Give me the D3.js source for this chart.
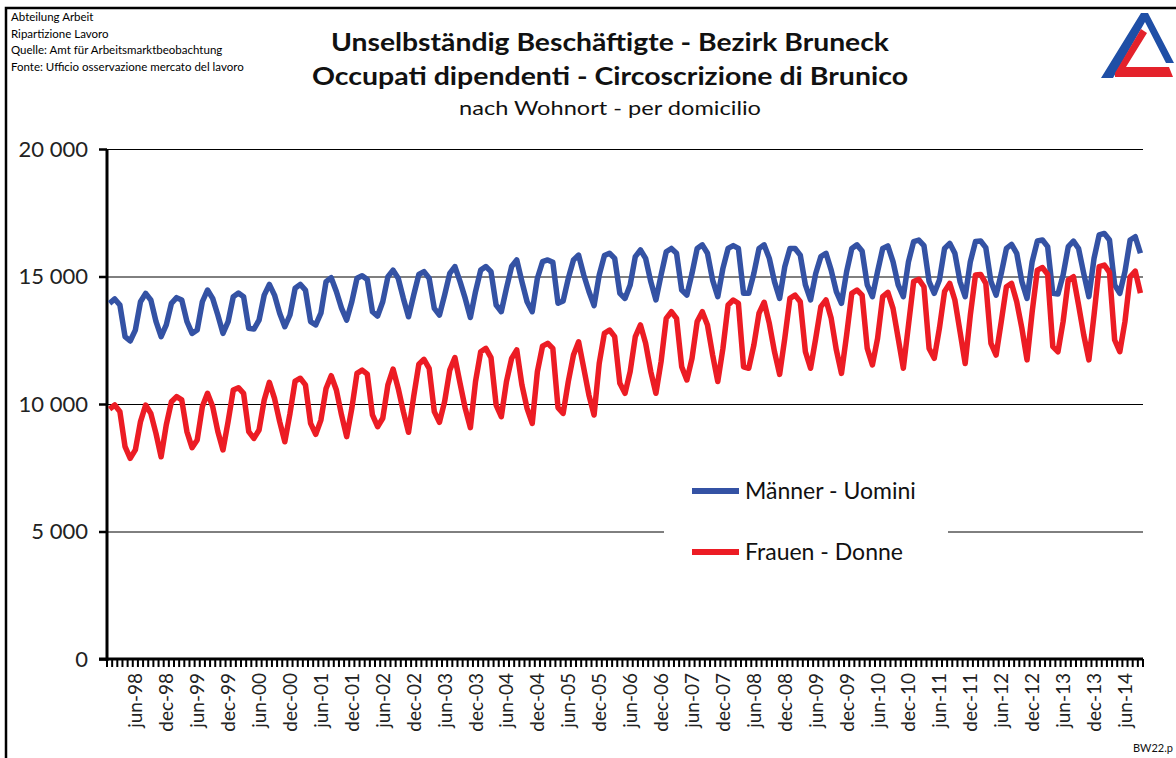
<!DOCTYPE html>
<html>
<head>
<meta charset="utf-8">
<script src="https://cdn.jsdelivr.net/npm/d3@7"></script>
<style>
body { margin: 0; background: #fff; }
svg { display: block; }
</style>
</head>
<body>
<div id="chart"></div>
<script>
// data, monthly jan-98 .. sep-14
var years = ["98","99","00","01","02","03","04","05","06","07","08","09","10","11","12","13","14"];
var monthNames = ["jan","feb","mar","apr","may","jun","jul","aug","sep","oct","nov","dec"];

var maenner = [
    13950, 14120, 13880, 12640, 12470, 12900, 14010, 14340, 14080, 13240, 12640, 13100, // 1998
    13950, 14170, 14080, 13240, 12770, 12900, 14010, 14470, 14140, 13490, 12770, 13230, // 1999
    14210, 14350, 14210, 12970, 12940, 13290, 14270, 14690, 14270, 13560, 13030, 13490, // 2000
    14540, 14690, 14470, 13230, 13100, 13560, 14800, 14950, 14410, 13760, 13290, 14010, // 2001
    14930, 15030, 14880, 13620, 13450, 14010, 14990, 15250, 14930, 14140, 13420, 14270, // 2002
    15080, 15190, 14930, 13750, 13490, 14270, 15120, 15390, 14800, 14140, 13390, 14410, // 2003
    15250, 15390, 15190, 13880, 13620, 14540, 15390, 15650, 14800, 14010, 13620, 14930, // 2004
    15580, 15650, 15560, 13950, 14040, 14930, 15650, 15840, 15060, 14410, 13860, 15060, // 2005
    15820, 15910, 15710, 14340, 14140, 14670, 15780, 16040, 15710, 14800, 14080, 15060, // 2006
    15970, 16100, 15910, 14470, 14270, 15120, 16100, 16240, 15910, 14860, 14210, 15320, // 2007
    16100, 16210, 16100, 14340, 14340, 15120, 16100, 16240, 15710, 14800, 14140, 15380, // 2008
    16100, 16100, 15840, 14670, 14080, 15120, 15780, 15910, 15250, 14410, 13950, 15190, // 2009
    16100, 16240, 16000, 14670, 14210, 15190, 16100, 16200, 15580, 14670, 14210, 15580, // 2010
    16370, 16430, 16210, 14800, 14340, 14860, 16100, 16300, 15910, 14800, 14210, 15580, // 2011
    16370, 16390, 16130, 14800, 14270, 15120, 16100, 16260, 15910, 14800, 14140, 15580, // 2012
    16390, 16430, 16170, 14340, 14310, 15060, 16170, 16390, 16100, 15120, 14210, 15710, // 2013
    16630, 16690, 16430, 14670, 14340, 15190, 16430, 16560, 15910                        // 2014
];

var frauen = [
    9800, 9960, 9700, 8330, 7870, 8200, 9310, 9960, 9630, 8850, 7930, 9180,             // 1998
    10090, 10290, 10160, 8920, 8290, 8590, 9900, 10420, 9900, 8920, 8200, 9310,         // 1999
    10550, 10640, 10420, 8920, 8650, 8980, 10160, 10850, 10220, 9310, 8520, 9630,       // 2000
    10900, 11010, 10750, 9240, 8810, 9370, 10610, 11110, 10550, 9570, 8720, 9830,       // 2001
    11200, 11330, 11170, 9570, 9110, 9440, 10750, 11370, 10610, 9700, 8890, 10290,      // 2002
    11560, 11750, 11400, 9700, 9280, 10090, 11330, 11820, 10810, 9830, 9070, 10880,     // 2003
    12050, 12180, 11820, 9960, 9500, 10880, 11790, 12120, 10750, 9830, 9240, 11270,     // 2004
    12270, 12380, 12180, 9860, 9630, 10880, 11920, 12440, 11400, 10350, 9570, 11600,    // 2005
    12770, 12900, 12640, 10810, 10420, 11270, 12640, 13100, 12380, 11270, 10420, 11660, // 2006
    13360, 13620, 13360, 11460, 10940, 11790, 13230, 13620, 13100, 11920, 10880, 12180, // 2007
    13880, 14080, 13950, 11460, 11400, 12310, 13560, 13990, 13160, 12050, 11160, 12570, // 2008
    14140, 14270, 14010, 12050, 11400, 12570, 13820, 14080, 13360, 12120, 11200, 12710, // 2009
    14340, 14470, 14270, 12180, 11530, 12570, 14210, 14380, 13750, 12580, 11400, 13100, // 2010
    14800, 14890, 14600, 12180, 11790, 12970, 14410, 14730, 14080, 12840, 11590, 13490, // 2011
    15060, 15080, 14730, 12380, 11920, 13230, 14600, 14730, 14010, 12970, 11730, 13620, // 2012
    15250, 15350, 15080, 12250, 12050, 13230, 14860, 14990, 13880, 12710, 11730, 13490, // 2013
    15390, 15450, 15160, 12510, 12050, 13230, 14990, 15210, 14350                        // 2014
];

var tickLabels = ["jun-98","dec-98","jun-99","dec-99","jun-00","dec-00","jun-01","dec-01",
    "jun-02","dec-02","jun-03","dec-03","jun-04","dec-04","jun-05","dec-05","jun-06","dec-06",
    "jun-07","dec-07","jun-08","dec-08","jun-09","dec-09","jun-10","dec-10","jun-11","dec-11",
    "jun-12","dec-12","jun-13","dec-13","jun-14"];
var yTicks = [0, 5000, 10000, 15000, 20000];
var seriesNames = ["Männer - Uomini", "Frauen - Donne"];

var headerLines = ["Abteilung Arbeit", "Ripartizione Lavoro",
    "Quelle: Amt für Arbeitsmarktbeobachtung", "Fonte: Ufficio osservazione mercato del lavoro"];

//sizes
var width = 1176;
var height = 758;
var plot = {'left': 107, 'right': 1143, 'top': 149, 'bottom': 659};
var blue = '#3452a4';
var red = '#ec1c24';
var font = 'Lato, "Open Sans", sans-serif';

var categories = [];
years.forEach(function(y){
    monthNames.forEach(function(m){
        categories.push(m + '-' + y);
    });
});
categories = categories.slice(0, maenner.length);

var svg = d3.select('#chart')
    .append('svg')
    .attr('width', width)
    .attr('height', height)
    .style('font-family', font);

svg.append('rect')
    .attr('width', width)
    .attr('height', height)
    .attr('fill', '#fff');

//frame (only top and left visible)
svg.append('path')
    .attr('d', 'M6,' + height + ' L6,8 L' + width + ',8')
    .attr('fill', 'none')
    .attr('stroke', '#000')
    .attr('stroke-width', 2.5);

//header text top left
svg.append('g').selectAll('text')
    .data(headerLines)
    .enter().append('text')
    .attr('x', 11)
    .attr('y', function(d, i){ return 21 + i * 16.5; })
    .attr('font-size', 11.5)
    .attr('fill', '#000')
    .text(function(d){ return d; });

//titles
var titles = [
    {'text': 'Unselbständig Beschäftigte - Bezirk Bruneck', 'y': 51, 'size': 25, 'weight': 'bold', 'len': 558},
    {'text': 'Occupati dipendenti - Circoscrizione di Brunico', 'y': 85, 'size': 25, 'weight': 'bold', 'len': 596},
    {'text': 'nach Wohnort - per domicilio', 'y': 115, 'size': 20, 'weight': 'normal', 'len': 302}
];
svg.append('g').selectAll('text')
    .data(titles)
    .enter().append('text')
    .attr('x', 610)
    .attr('y', function(d){ return d.y; })
    .attr('text-anchor', 'middle')
    .attr('font-size', function(d){ return d.size; })
    .attr('font-weight', function(d){ return d.weight; })
    .attr('textLength', function(d){ return d.len; })
    .attr('lengthAdjust', 'spacingAndGlyphs')
    .attr('fill', '#111')
    .text(function(d){ return d.text; });

//logo
var logo = svg.append('g').attr('class', 'logo');
logo.append('polygon')
    .attr('points', '1101,78 1113,78 1145,22 1166,63 1174,63 1148,13 1141,13')
    .attr('fill', '#1f4fa6');
logo.append('polygon')
    .attr('points', '1141,29 1147,33 1126,67 1169,67 1173,77 1115,77 1115,73')
    .attr('fill', '#e4222b');

//scales
var x = d3.scaleBand()
    .domain(categories)
    .range([plot.left, plot.right])
    .padding(0);

var y = d3.scaleLinear()
    .domain([0, 20000])
    .range([plot.bottom, plot.top]);

//gridlines
svg.append('g').selectAll('line')
    .data(yTicks.filter(function(d){ return d > 0; }))
    .enter().append('line')
    .attr('x1', plot.left)
    .attr('x2', plot.right)
    .attr('y1', function(d){ return y(d) + 0.5; })
    .attr('y2', function(d){ return y(d) + 0.5; })
    .attr('stroke', '#000')
    .attr('stroke-width', 1);

//y axis
var yAxis = d3.axisLeft(y)
    .tickValues(yTicks)
    .tickSize(8)
    .tickPadding(11)
    .tickFormat(function(d){ return d3.format(',')(d).replace(',', ' '); });

var yg = svg.append('g')
    .attr('transform', 'translate(' + plot.left + ',0)')
    .call(yAxis);
yg.select('.domain').remove();
yg.selectAll('.tick line').attr('stroke', '#000').attr('stroke-width', 2.5);
yg.selectAll('.tick text')
    .attr('font-family', font)
    .attr('font-size', 22)
    .attr('fill', '#222');

svg.append('line')
    .attr('x1', plot.left)
    .attr('x2', plot.left)
    .attr('y1', plot.top)
    .attr('y2', plot.bottom + 2)
    .attr('stroke', '#000')
    .attr('stroke-width', 3);

//x axis: minor ticks on every month boundary
var boundaries = categories.map(function(c){ return x(c); }).concat([plot.right]);
svg.append('g').selectAll('line')
    .data(boundaries)
    .enter().append('line')
    .attr('x1', function(d){ return d; })
    .attr('x2', function(d){ return d; })
    .attr('y1', plot.bottom)
    .attr('y2', plot.bottom + 8)
    .attr('stroke', '#000')
    .attr('stroke-width', 2);

svg.append('line')
    .attr('x1', plot.left - 8)
    .attr('x2', plot.right)
    .attr('y1', plot.bottom)
    .attr('y2', plot.bottom)
    .attr('stroke', '#000')
    .attr('stroke-width', 3);

svg.append('g').selectAll('text')
    .data(tickLabels)
    .enter().append('text')
    .attr('transform', function(d){
        return 'translate(' + (x(d) + x.bandwidth() / 2 + 7) + ',' + (plot.bottom + 14) + ') rotate(-90)';
    })
    .attr('text-anchor', 'end')
    .attr('font-size', 19)
    .attr('fill', '#222')
    .text(function(d){ return d; });

//lines
var line = function(values){
    return d3.line()
        .x(function(d, i){ return x(categories[i]) + x.bandwidth() / 2; })
        .y(function(d){ return y(d); })(values);
};

svg.append('path')
    .attr('d', line(maenner))
    .attr('fill', 'none')
    .attr('stroke', blue)
    .attr('stroke-width', 5.5)
    .attr('stroke-linejoin', 'round');

svg.append('path')
    .attr('d', line(frauen))
    .attr('fill', 'none')
    .attr('stroke', red)
    .attr('stroke-width', 5.5)
    .attr('stroke-linejoin', 'round');

//legend
var legend = svg.append('g');
legend.append('rect')
    .attr('x', 664)
    .attr('y', 468)
    .attr('width', 284)
    .attr('height', 112)
    .attr('fill', '#fff');

var legendItems = legend.selectAll('g')
    .data(seriesNames)
    .enter().append('g')
    .attr('transform', function(d, i){ return 'translate(692,' + (491 + i * 61) + ')'; });

legendItems.append('line')
    .attr('x1', 0)
    .attr('x2', 47)
    .attr('stroke', function(d, i){ return i === 0 ? blue : red; })
    .attr('stroke-width', 6);

legendItems.append('text')
    .attr('x', 53)
    .attr('y', 8)
    .attr('font-size', 23)
    .attr('fill', '#111')
    .text(function(d){ return d; });

//footer
svg.append('text')
    .attr('x', 1133)
    .attr('y', 752)
    .attr('font-size', 11)
    .attr('fill', '#111')
    .text('BW22.p');
</script>
</body>
</html>
